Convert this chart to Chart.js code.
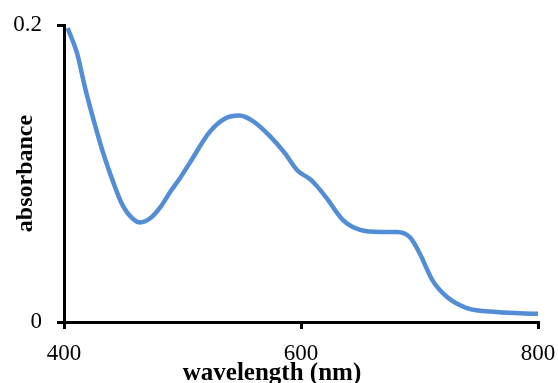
<!DOCTYPE html>
<html>
<head>
<meta charset="utf-8">
<script src="https://cdn.jsdelivr.net/npm/chart.js@4"></script>
<style>
  body { margin: 0; background: #fff; }
  #wrap { width: 558px; height: 383px; }
</style>
</head>
<body>
<div id="wrap"><canvas id="chart"></canvas></div>
<script>
// spectrum
const wavelengths = [403, 411, 418, 425, 433, 443, 448, 455, 464, 473, 481, 490, 498, 506, 523, 536, 548, 560, 574, 586, 597, 608, 614, 622, 635, 650, 667, 681, 692, 700, 711, 723, 740, 765, 800];
const absorbance = [0.198, 0.181, 0.157, 0.136, 0.114, 0.091, 0.081, 0.072, 0.067, 0.070, 0.077, 0.088, 0.097, 0.107, 0.128, 0.137, 0.139, 0.135, 0.125, 0.114, 0.102, 0.096, 0.091, 0.083, 0.069, 0.062, 0.0606, 0.0606, 0.057, 0.0465, 0.028, 0.017, 0.0094, 0.0067, 0.0055];
const xTicks = [400, 600, 800];
const yTicks = [0, 0.2];
const xTitle = 'wavelength (nm)';
const yTitle = 'absorbance';

const points = wavelengths.map((w, i) => ({ x: w, y: absorbance[i] }));
const serif = "'Liberation Serif', 'Times New Roman', serif";

// x title sits a bit left of the plot centre in the original, so draw it by hand
const xTitlePlugin = {
  id: 'xTitle',
  afterDraw(chart) {
    const { ctx, chartArea } = chart;
    ctx.save();
    ctx.font = 'bold 25px ' + serif;
    ctx.fillStyle = '#000';
    ctx.textAlign = 'center';
    ctx.textBaseline = 'alphabetic';
    ctx.fillText(xTitle, (chartArea.left + chartArea.right) / 2 - 29, 380);
    ctx.restore();
  }
};

new Chart(document.getElementById('chart'), {
  type: 'line',
  data: {
    datasets: [{
      data: points,
      borderColor: '#538DD5',
      borderWidth: 4.5,
      pointRadius: 0,
      tension: 0.4,
      cubicInterpolationMode: 'monotone',
      fill: false,
      clip: false
    }]
  },
  options: {
    responsive: true,
    maintainAspectRatio: false,
    animation: false,
    layout: { padding: { top: 25, right: 20, left: 0, bottom: 0 } },
    plugins: { legend: { display: false }, tooltip: { enabled: false } },
    scales: {
      x: {
        type: 'linear',
        min: xTicks[0],
        max: xTicks[xTicks.length - 1],
        afterBuildTicks: s => { s.ticks = xTicks.map(v => ({ value: v })); },
        afterFit: s => { s.height = 61; s.paddingLeft = 0; s.paddingRight = 0; },
        border: { display: true, color: '#000', width: 3 },
        grid: { drawOnChartArea: false, drawTicks: true, tickLength: 7, color: '#000', lineWidth: 3 },
        ticks: { color: '#000', padding: 11, maxRotation: 0, font: { family: serif, size: 23 } }
      },
      y: {
        min: yTicks[0],
        max: yTicks[yTicks.length - 1],
        afterBuildTicks: s => { s.ticks = yTicks.map(v => ({ value: v })); },
        afterFit: s => { s.width = 64; s.paddingTop = 0; s.paddingBottom = 0; },
        border: { display: true, color: '#000', width: 3 },
        grid: { drawOnChartArea: false, drawTicks: true, tickLength: 7, color: '#000', lineWidth: 3 },
        ticks: { color: '#000', padding: 15, font: { family: serif, size: 23 }, callback: v => String(v) },
        title: {
          display: true,
          text: yTitle,
          color: '#000',
          padding: { top: 11, bottom: 0 },
          font: { family: serif, size: 24, weight: 'bold' }
        }
      }
    }
  },
  plugins: [xTitlePlugin]
});
</script>
</body>
</html>
